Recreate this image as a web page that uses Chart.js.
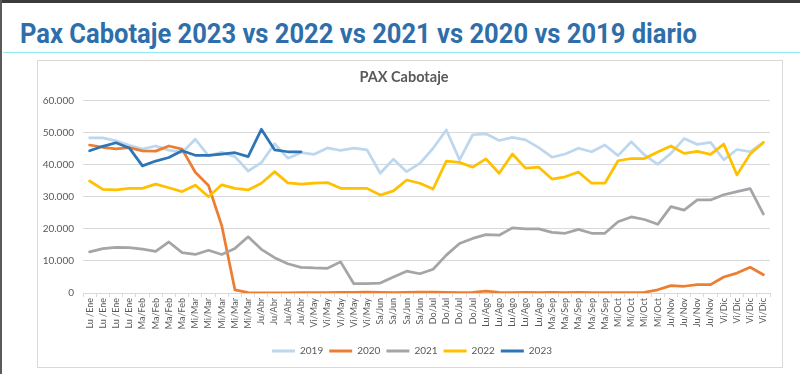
<!DOCTYPE html>
<html><head><meta charset="utf-8">
<script src="https://cdn.jsdelivr.net/npm/chart.js@4"></script>
<style>
html,body{margin:0;padding:0;width:800px;height:374px;overflow:hidden;background:#fff;}
#topbar{position:absolute;left:0;top:0;width:800px;height:3px;background:#3b3b3b;}
#leftbar{position:absolute;left:0;top:0;width:2px;height:374px;background:#5a5a5a;}
#title{position:absolute;left:20px;top:18px;font-family:Roboto,sans-serif;font-weight:700;font-size:27px;line-height:32px;color:#2E6EAA;white-space:nowrap;transform-origin:0 0;}
#rule{position:absolute;left:3px;top:52px;width:797px;height:1px;background:#8EEAF2;}
#box{position:absolute;left:37px;top:60px;width:744px;height:306px;border:1px solid #d9d9d9;background:#fff;}
#c{position:absolute;left:0;top:0;}
</style>
</head><body>
<div id="topbar"></div><div id="leftbar"></div>
<div id="title">Pax Cabotaje 2023 vs 2022 vs 2021 vs 2020 vs 2019 diario</div>
<div id="rule"></div>
<div id="box"><canvas id="c" width="744" height="305"></canvas></div>
<script>
const chartTitle = 'PAX Cabotaje';
const categories = [
 'Lu /Ene','Lu /Ene','Lu /Ene','Lu /Ene',
 'Ma/Feb','Ma/Feb','Ma/Feb','Ma/Feb',
 'Mi/Mar','Mi/Mar','Mi/Mar','Mi/Mar','Mi/Mar',
 'Ju/Abr','Ju/Abr','Ju/Abr','Ju/Abr',
 'Vi/May','Vi/May','Vi/May','Vi/May','Vi/May',
 'Sa/Jun','Sa/Jun','Sa/Jun','Sa/Jun',
 'Do/Jul','Do/Jul','Do/Jul','Do/Jul',
 'Lu/Ago','Lu/Ago','Lu/Ago','Lu/Ago','Lu/Ago',
 'Ma/Sep','Ma/Sep','Ma/Sep','Ma/Sep','Ma/Sep',
 'Mi/Oct','Mi/Oct','Mi/Oct','Mi/Oct',
 'Ju/Nov','Ju/Nov','Ju/Nov','Ju/Nov',
 'Vi/Dic','Vi/Dic','Vi/Dic','Vi/Dic'
];
const seriesNames = ['2019','2020','2021','2022','2023'];
const pax2019 = [48300,48300,47400,46000,44800,45800,44500,43800,47900,42700,43800,42500,38000,40600,46500,42000,43700,43200,45200,44400,45100,44600,37300,41700,37800,40400,45100,50800,41500,49300,49600,47500,48500,47700,45300,42300,43300,45100,44000,46100,42800,47100,43000,40100,43500,48100,46300,46900,41500,44700,44000,46900];
const pax2020 = [46100,45400,44900,45300,44300,44200,45800,44800,37600,33500,21000,1000,100,50,50,50,80,100,150,200,200,250,200,150,200,250,250,200,150,200,600,200,150,200,150,200,150,200,150,150,150,150,200,1000,2300,2100,2600,2600,5000,6200,8000,5700];
const pax2021 = [12800,13800,14200,14100,13700,13000,15900,12600,12000,13300,12000,13900,17500,13600,11000,9100,8000,7800,7700,9700,2900,2900,3100,5000,6800,6000,7400,11800,15400,17000,18200,18000,20300,20000,20000,18900,18600,19800,18600,18600,22200,23700,22900,21400,26900,25800,29000,29000,30600,31600,32500,24600];
const pax2022 = [34900,32300,32100,32600,32600,33900,32800,31600,33600,30000,33700,32600,32100,34200,37800,34300,33900,34200,34400,32600,32600,32600,30500,31800,35200,34200,32400,41100,40700,39200,41800,37300,43300,38900,39200,35500,36200,37700,34200,34200,41200,41900,41900,43900,45800,43500,44100,43200,46400,36800,43300,46900];
const pax2023 = [44300,45700,46800,45200,39600,41100,42200,44300,42900,42900,43300,43700,42500,51000,44600,44000,44000];
const seriesColors = ['#BDD7EE','#ED7D31','#A5A5A5','#FFC000','#2E75B6'];
const yTickValues = [0,10000,20000,30000,40000,50000,60000];

function fmt(v){ return v === 0 ? '0' : String(v).replace(/\B(?=(\d{3})+(?!\d))/g,'.'); }

const t = document.getElementById('title');
const tw = t.getBoundingClientRect().width;
t.style.transform = 'scaleX(' + (677 / tw) + ')';

const allSeries = [pax2019, pax2020, pax2021, pax2022, pax2023];
const datasets = allSeries.map((d, i) => ({
  label: seriesNames[i],
  data: d,
  borderColor: seriesColors[i],
  backgroundColor: seriesColors[i],
  borderWidth: 2.75,
  pointRadius: 0,
  tension: 0,
  fill: false,
  borderJoinStyle: 'round',
  borderCapStyle: 'round',
  order: 5 - i
}));

const legendShift = {
  id: 'legendShift',
  afterLayout(chart) {
    if (chart.legend) { chart.legend.left += 8; chart.legend.right += 8; }
  }
};

new Chart(document.getElementById('c'), {
  type: 'line',
  data: { labels: categories, datasets },
  plugins: [legendShift],
  options: {
    responsive: false,
    animation: false,
    layout: { padding: { left: 0, right: 12, top: 0, bottom: 0 } },
    plugins: {
      title: { display: true, text: chartTitle, color: '#595959',
        font: { family: 'Lato', size: 14.5, weight: 'bold' }, padding: { top: 8, bottom: 14 } },
      legend: { position: 'bottom',
        labels: { boxWidth: 23, boxHeight: 3, padding: 6, color: '#595959',
          font: { family: 'Lato', size: 10 },
          generateLabels: (chart) => chart.data.datasets.map((ds, i) => ({
            text: ds.label, fillStyle: ds.borderColor, strokeStyle: ds.borderColor,
            lineWidth: 0, hidden: false, datasetIndex: i, fontColor: '#595959'
          }))
        } },
      tooltip: { enabled: false }
    },
    scales: {
      x: {
        offset: true,
        grid: { offset: true, drawOnChartArea: false, drawTicks: true, tickLength: 4, color: '#d9d9d9' },
        border: { display: true, color: '#d9d9d9' },
        ticks: { autoSkip: false, minRotation: 90, maxRotation: 90, padding: 1, color: '#595959',
          font: { family: 'Lato', size: 9 } },
        afterFit: (s) => { s.height = 47; }
      },
      y: {
        min: 0, max: 60000,
        afterBuildTicks: (s) => { s.ticks = yTickValues.map(v => ({ value: v })); },
        ticks: { padding: 9, color: '#595959', font: { family: 'Lato', size: 10 }, callback: (v) => fmt(v) },
        grid: { color: '#d9d9d9', drawTicks: false },
        border: { display: false },
        afterFit: (s) => { s.width = 45; }
      }
    }
  }
});
</script>
</body></html>
